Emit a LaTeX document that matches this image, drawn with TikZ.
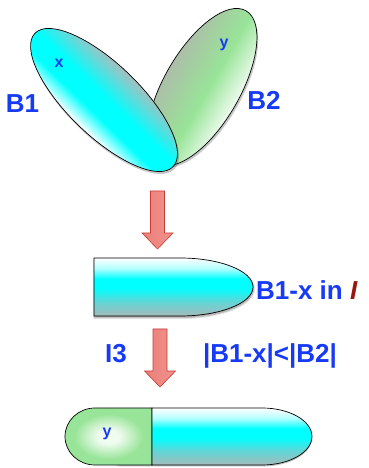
\documentclass[tikz,border=0pt]{standalone}
\usepackage{fontspec}
\setmainfont{Liberation Sans}
\usetikzlibrary{calc, shadows.blur}

\definecolor{labelblue}{RGB}{22,58,245}
\definecolor{slashred}{RGB}{150,25,15}
\definecolor{arrowfill}{RGB}{234,128,122}
\definecolor{arrowlight}{RGB}{242,145,140}
\definecolor{arrowedge}{RGB}{200,60,50}
\definecolor{tealgray}{RGB}{165,186,186}
\definecolor{tealmid}{RGB}{100,212,214}
\definecolor{leafgray}{RGB}{168,190,190}
\definecolor{leafgreen}{RGB}{152,228,152}
\definecolor{greengray}{RGB}{172,190,168}
\definecolor{paleleaf}{RGB}{240,252,240}

\pgfdeclareverticalshading{cyanbar}{100bp}{color(0bp)=(tealgray); color(25bp)=(tealgray); color(37bp)=(tealmid); color(49bp)=(cyan); color(57bp)=(cyan); color(66bp)=(cyan!30!white); color(75bp)=(white); color(100bp)=(white)}
\pgfdeclareverticalshading{cyanleaf}{100bp}{color(0bp)=(white); color(25bp)=(white); color(39bp)=(cyan); color(52bp)=(cyan); color(75bp)=(leafgray); color(100bp)=(leafgray)}
\pgfdeclareverticalshading{greenleaf}{100bp}{color(0bp)=(white); color(25bp)=(white!85!leafgreen); color(46bp)=(leafgreen); color(75bp)=(greengray); color(100bp)=(greengray)}
\pgfdeclareradialshading{greenglow}{\pgfpoint{0bp}{0bp}}{color(0bp)=(paleleaf); color(6bp)=(paleleaf); color(20bp)=(leafgreen); color(33bp)=(leafgreen); color(48bp)=(greengray); color(50bp)=(greengray)}

% block arrow pointing down: #1 = x of centre, #2 = y of top
\newcommand{\redarrow}[2]{%
  \shadedraw[redarrow] (#1-7,#2) -- (#1+7,#2) -- (#1+7,#2-42) -- (#1+15.5,#2-42)
    -- (#1,#2-58) -- (#1-15.5,#2-42) -- (#1-7,#2-42) -- cycle;}

\begin{document}
\begin{tikzpicture}[x=1pt, y=1pt,
  outline/.style={draw=black, line width=0.7pt},
  softshadow/.style={blur shadow={shadow xshift=0.6pt, shadow yshift=-1.6pt,
    shadow blur radius=2pt, shadow blur steps=6, shadow opacity=45}},
  leafshadow/.style={fill=black, opacity=0.22},
  redarrow/.style={left color=arrowfill, right color=arrowlight, draw=arrowedge,
    line width=0.6pt, line join=miter},
  biglabel/.style={text=labelblue, font=\fontsize{26}{28}\selectfont\bfseries, inner sep=0pt},
  smalllabel/.style={text=labelblue, font=\fontsize{16}{18}\selectfont\bfseries, inner sep=0pt}]
\useasboundingbox (0,0) rectangle (369,468);

% the two leaves B2 and B1, each with its shadow
\fill[leafshadow, transform canvas={rotate around={60:(203,379)}}]
  (203,379) ellipse [x radius=88, y radius=38.5];
\shadedraw[shading=greenleaf, outline, transform canvas={rotate around={60:(202,381)}}]
  (202,381) ellipse [x radius=88, y radius=38];
\fill[leafshadow, transform canvas={rotate around={-44:(105,366)}}]
  (105,366) ellipse [x radius=96.5, y radius=36.5];
\shadedraw[shading=cyanleaf, outline, transform canvas={rotate around={-44:(104,368)}}]
  (104,368) ellipse [x radius=96, y radius=36];

\node[smalllabel, anchor=base] (xlab) at (59,400) {x};
\node[smalllabel, anchor=base] (ylab) at (224,420) {y};
\node[biglabel, anchor=base] (bonelab) at (22.5,355) {B1};
\node[biglabel, anchor=base] (btwolab) at (264,358) {B2};

% first step
\redarrow{157.5}{277}

% B1 without x
\shadedraw[shading=cyanbar, outline, softshadow] (94,152) -- (180,152)
  arc[start angle=-90, end angle=90, x radius=73, y radius=29] -- (94,210) -- cycle;
\node[biglabel, anchor=base west] (restlab) at (256,168) {B1-x in \textcolor{slashred}{\itshape I}};

% second step
\redarrow{160}{139}
\node[biglabel, anchor=base] (invlab) at (116,105) {I3};
\node[biglabel, anchor=base] (condlab) at (270,105) {|B1-x|<|B2|};

% y joined to B1 without x
\fill[black, opacity=0.25] (95,1.5) -- (262,1.5) arc[start angle=-90, end angle=0, x radius=50, y radius=28.5]
  -- (95,30) arc[start angle=180, end angle=270, x radius=30, y radius=28.5] -- cycle;
\shadedraw[shading=greenglow, outline] (152,3) -- (95,3)
  arc[start angle=270, end angle=90, x radius=30, y radius=28.5] -- (152,60) -- cycle;
\shadedraw[shading=cyanbar, outline] (152,3) -- (262,3)
  arc[start angle=-90, end angle=90, x radius=50, y radius=28.5] -- (152,60) -- cycle;
\node[smalllabel, anchor=base] (ylabtwo) at (107,31) {y};
\end{tikzpicture}
\end{document}
